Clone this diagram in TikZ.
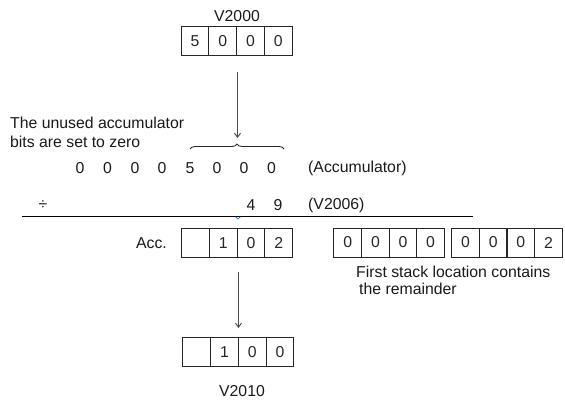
\documentclass[tikz,border=0pt]{standalone}
\usepackage{fontspec}
\setmainfont{Liberation Sans}
\usetikzlibrary{arrows.meta,decorations.pathreplacing}
\tikzset{
  cell/.style={draw=black!85,line width=1bp,minimum width=27.7bp,minimum height=29bp,inner sep=0pt,outer sep=0pt,text=black!85},
  lbl/.style={inner sep=0pt,text=black!90},
  arr/.style={draw=black!70,line width=1bp,-{Straight Barb[length=4bp,width=6bp]}}
}
\begin{document}
\begin{tikzpicture}[x=1bp,y=-1bp,font=\fontsize{15.8bp}{19bp}\selectfont]
\useasboundingbox (0,0) rectangle (565,399);
% top register V2000
\node[lbl] (v2000) at (237,16) {V2000};
\node[cell] (t1) at (195,41.2) {5};
\node[cell] (t2) at (222.8,41.2) {0};
\node[cell] (t3) at (250.5,41.2) {0};
\node[cell] (t4) at (278.3,41.2) {0};
\coordinate (a1s) at (237.5,72);
\coordinate (a1e) at (237.5,138);
\draw[arr] (a1s) -- (a1e);
% brace
\coordinate (bl) at (190,149);
\coordinate (br) at (284,149);
\draw[black!85,line width=0.9bp,decorate,decoration={brace,amplitude=5bp}] (bl) -- (br);
\node[lbl,align=left,anchor=west] (note) at (10,132) {The unused accumulator\\bits are set to zero};
% accumulator row
\node[lbl] (d1) at (80,168) {0};
\node[lbl] (d2) at (107.5,168) {0};
\node[lbl] (d3) at (135,168) {0};
\node[lbl] (d4) at (162,168) {0};
\node[lbl] (d5) at (190,168) {5};
\node[lbl] (d6) at (217,168) {0};
\node[lbl] (d7) at (244,168) {0};
\node[lbl] (d8) at (271.5,168) {0};
\node[lbl,anchor=west] (accl) at (308,168) {(Accumulator)};
% divisor row
\node[lbl] (div) at (43,205) {÷};
\node[lbl] (e1) at (251,205) {4};
\node[lbl] (e2) at (278,205) {9};
\node[lbl,anchor=west] (v2006) at (308,205) {(V2006)};
\coordinate (ls) at (22,216);
\coordinate (le) at (473,216);
\draw[black,line width=1bp] (ls) -- (le);
\coordinate (bm) at (238,219);
\draw[cyan!60!blue,line width=0.7bp] (235.5,216.8) -- (bm) -- (240.5,216.8);
% Acc result
\node[lbl,anchor=east] (acc) at (167,243) {Acc.};
\node[cell] (r1) at (195.6,242.8) {};
\node[cell] (r2) at (223.3,242.8) {1};
\node[cell] (r3) at (251,242.8) {0};
\node[cell] (r4) at (278.8,242.8) {2};
% stack
\node[cell] (s1) at (347.8,242.5) {0};
\node[cell] (s2) at (375.4,242.5) {0};
\node[cell] (s3) at (403,242.5) {0};
\node[cell] (s4) at (430.6,242.5) {0};
\node[cell] (s5) at (465.6,242.5) {0};
\node[cell] (s6) at (493.2,242.5) {0};
\node[cell] (s7) at (520.8,242.5) {0};
\node[cell] (s8) at (548.4,242.5) {2};
\node[lbl,align=left,anchor=north west,font=\fontsize{15.8bp}{17bp}\selectfont] (stk) at (356,266) {First stack location contains\\\hspace*{3bp}the remainder};
% arrow down
\coordinate (a2s) at (238.5,272);
\coordinate (a2e) at (238.5,328);
\draw[arr] (a2s) -- (a2e);
% V2010
\node[cell] (b1) at (196.6,351.7) {};
\node[cell] (b2) at (224.4,351.7) {1};
\node[cell] (b3) at (252.2,351.7) {0};
\node[cell] (b4) at (280,351.7) {0};
\node[lbl] (v2010) at (242,391) {V2010};
\end{tikzpicture}
\end{document}
